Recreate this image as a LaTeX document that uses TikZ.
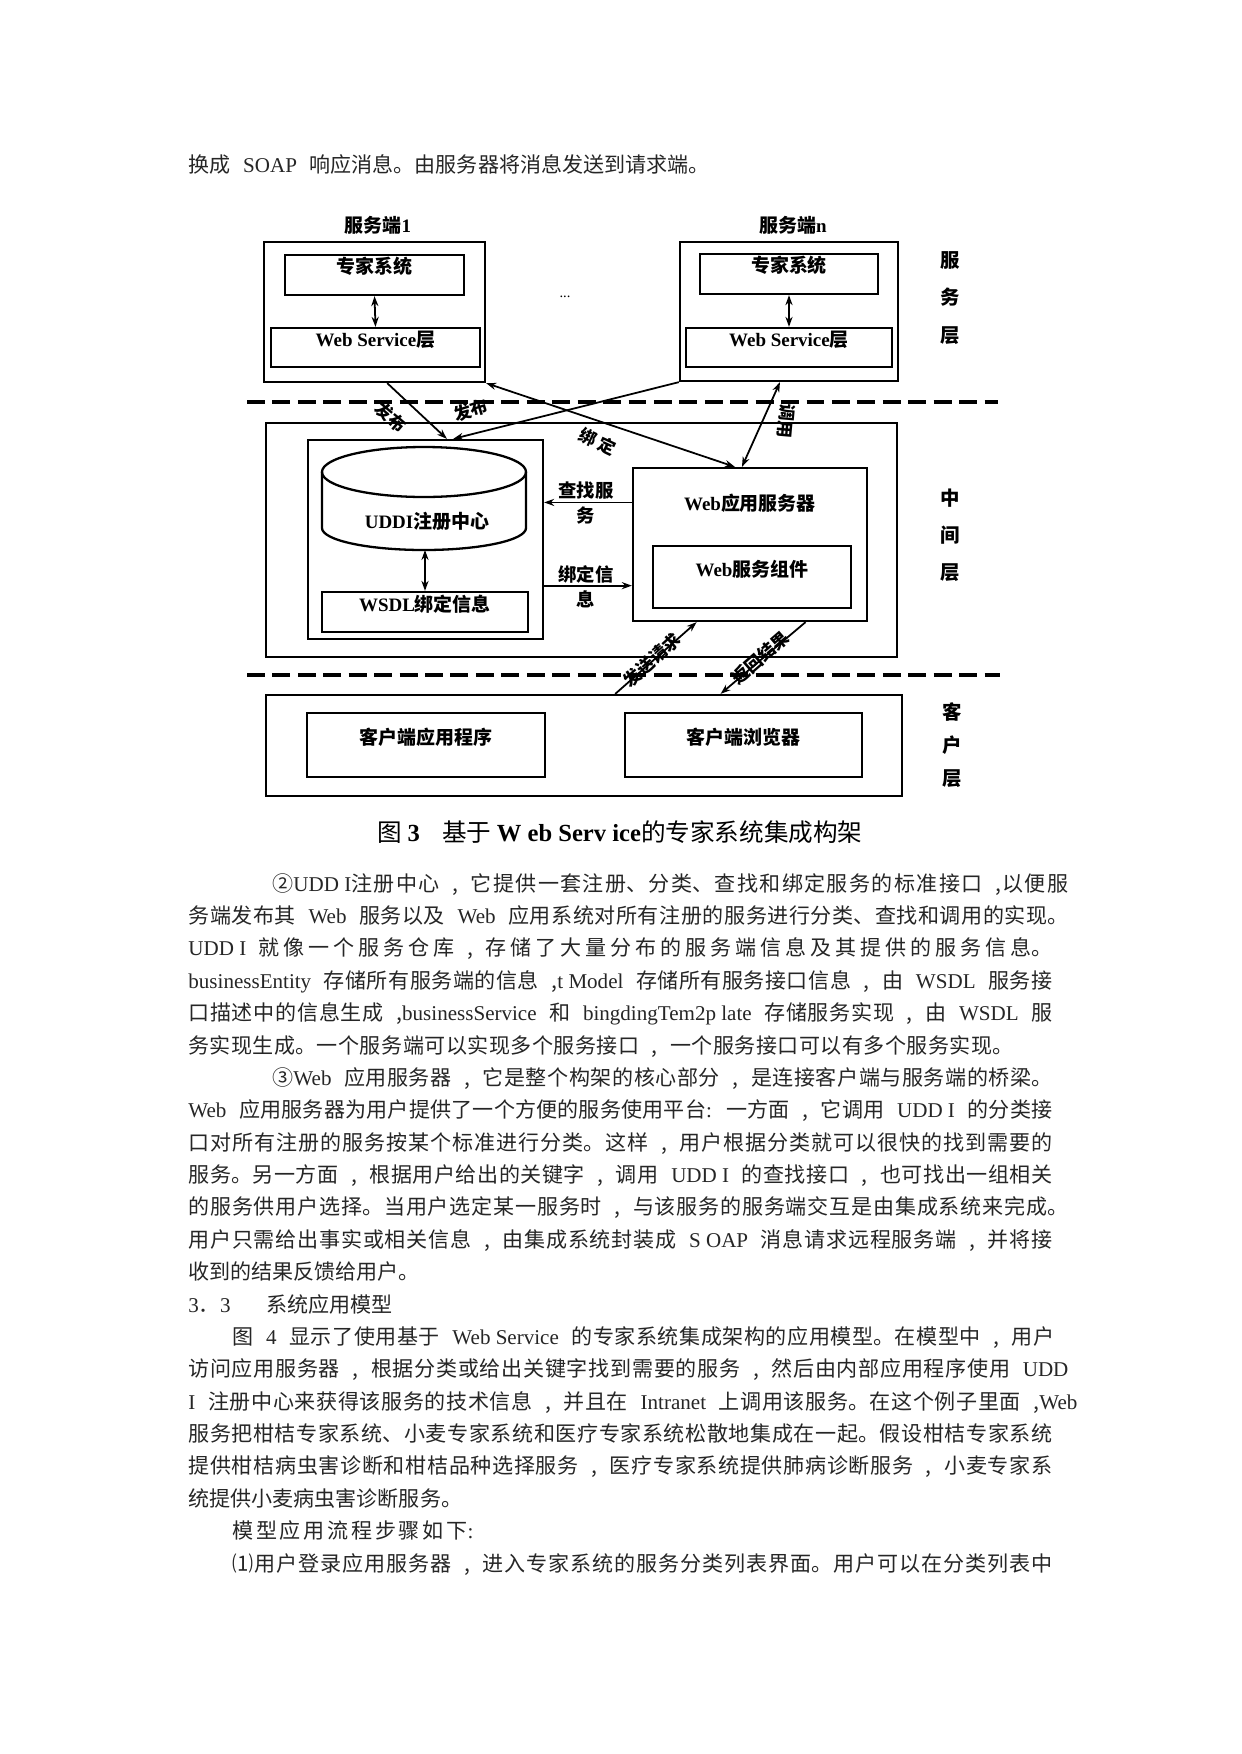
\documentclass[tikz,border=0pt]{standalone}
\usepackage{fontspec}
\setmainfont{Noto Sans CJK SC}
\newfontfamily\latfont{Liberation Serif}
\newcommand\lat[1]{{\latfont\spaceskip=0pt\relax #1}}
\usetikzlibrary{arrows.meta,fit,calc}
\XeTeXlinebreaklocale "zh"
\XeTeXlinebreakskip=0pt plus 1pt minus 0.2pt
\newlength\pxu
\setlength\pxu{0.4797bp}
\newcommand\bodysp{\spaceskip=0.6em plus 0.2em minus 0.15em\relax}
\newcommand\bline[4]{\node[bodytxt] (#1) at (#2) {\bodysp\parbox[b]{#3\pxu}{\parindent=0pt\parfillskip=0pt\rightskip=0pt minus 30pt\XeTeXlinebreakskip=0pt plus 1fil minus 0.3pt\relax #4}};}
\newcommand\nline[3]{\node[bodytxt] (#1) at (#2) {\bodysp #3};}
\begin{document}
\begin{tikzpicture}[x=0.4797bp,y=-0.4797bp,
  box/.style={draw, line width=1.1bp, inner sep=0pt},
  dlab/.style={font=\fontsize{9.1bp}{11bp}\selectfont\bfseries, inner sep=0pt},
  conn/.style={line width=0.85bp},
  arrA/.style={-{Stealth[length=4.8bp,width=3.4bp]}},
  arrB/.style={{Stealth[length=4.8bp,width=3.4bp]}-{Stealth[length=4.8bp,width=3.4bp]}},
  sepline/.style={line width=2.1bp, dash pattern=on 8.6bp off 3.6bp},
  alab/.style={font=\fontsize{8.3bp}{10bp}\selectfont\bfseries, inner sep=0pt},
  sidelab/.style={font=\fontsize{8.8bp}{12bp}\selectfont\bfseries, inner sep=0pt, align=center},
  bodytxt/.style={font=\fontsize{10.1bp}{15.5bp}\selectfont, inner sep=0pt, anchor=base west, text=black!85},
  laylab/.style={font=\fontsize{9.3bp}{17.8bp}\selectfont\bfseries, inner sep=0pt, align=center},
]
\useasboundingbox (0,0) rectangle (1241,1754);
\fill[white] (0,0) rectangle (1241,1754);

% ---------- top text line ----------
\bline{l0}{188,172}{521}{换成 \lat{SOAP} 响应消息。由服务器将消息发送到请求端。}

% ---------- service layer ----------
\node[dlab] (s1t) at (378,225) {服务端\lat{1}};
\node[dlab] (snt) at (793,225) {服务端\lat{n}};
\node[box, fit={(264,242) (485,382)}] (s1) {};
\node[box, dlab, fit={(285,255) (464,295)}] (s1e) {专家系统};
\node[box, dlab, fit={(271,328) (480,367)}] (s1w) {\lat{Web Service}层};
\draw[conn, arrB] (s1e.south) -- (s1w.north);
\node[box, fit={(680,242) (898,381)}] (sn) {};
\node[box, dlab, fit={(700,254) (878,294)}] (sne) {专家系统};
\node[box, dlab, fit={(686,328) (892,367)}] (snw) {\lat{Web Service}层};
\draw[conn, arrB] (sne.south) -- (snw.north);
\node[font=\fontsize{7bp}{8bp}\selectfont, inner sep=0pt] (dots) at (565,297) {\lat{...}};
\node[laylab] (lay1) at (950,298) {服\\务\\层};

% ---------- separators ----------
\coordinate (d1a) at (247,402); \coordinate (d1b) at (998,402);
\draw[sepline] (d1a) -- (d1b);
\coordinate (d2a) at (247,675); \coordinate (d2b) at (1000,675);
\draw[sepline] (d2a) -- (d2b);

% ---------- middle layer ----------
\node[box, fit={(266,423) (897,657)}] (mid) {};
\node[box, fit={(308,440) (543,639)}] (uddic) {};
\draw[line width=1.1bp] (424,472) ellipse [x radius=102, y radius=25];
\draw[line width=1.1bp] (322,472) -- (322,528)
  .. controls (322,540.2) and (367.7,550) .. (424,550)
  .. controls (480.3,550) and (526,540.2) .. (526,528) -- (526,472);
\coordinate (cylb) at (425,550);
\node[dlab] (uddit) at (427,521) {\lat{UDDI}注册中心};
\node[box, dlab, fit={(322,592) (528,632)}] (wsdl) {\lat{WSDL}绑定信息};
\draw[conn, arrB] (cylb) -- (wsdl.north);
\node[box, fit={(633,468) (867,621)}] (web) {};
\node[dlab] (webt) at (750,503) {\lat{Web}应用服务器};
\node[box, dlab, fit={(653,546) (851,608)}] (webc) {\lat{Web}服务组件};
\coordinate (q1) at ($(web.north west)!0.229!(web.south west)$);
\coordinate (q2) at ($(web.north west)!0.765!(web.south west)$);
\draw[conn, arrA] (q1) -- (q1 -| uddic.east);
\draw[conn, arrA] (q2 -| uddic.east) -- (q2);
\node[sidelab] (lfind) at (586,503) {查找服\\务};
\node[sidelab] (lbind) at (586,587) {绑定信\\息};
\node[laylab] (lay2) at (950,535) {中\\间\\层};

% ---------- client layer ----------
\node[box, fit={(266,695) (902,796)}] (cli) {};
\node[box, dlab, fit={(307,713) (545,777)}] (cliapp) {客户端应用程序};
\node[box, dlab, fit={(625,713) (862,777)}] (clibr) {客户端浏览器};
\node[laylab, font=\fontsize{9.3bp}{16bp}\selectfont\bfseries] (lay3) at (952,745) {客\\户\\层};

% ---------- connectors ----------
\draw[conn, arrA] ($(s1.south west)!0.557!(s1.south east)$) -- ($(uddic.north west)!0.59!(uddic.north east)$);
\draw[conn, arrA] (sn.south west) -- ($(uddic.north west)!0.617!(uddic.north east)$);
\draw[conn, arrB] (s1.south east) -- ($(web.north west)!0.436!(web.north east)$);
\draw[conn, arrB] ($(web.north west)!0.466!(web.north east)$) -- ($(sn.south west)!0.459!(sn.south east)$);
\draw[conn, arrA] ($(cli.north west)!0.549!(cli.north east)$) -- ($(web.south west)!0.274!(web.south east)$);
\draw[conn, arrA] ($(web.south west)!0.735!(web.south east)$) -- ($(cli.north west)!0.714!(cli.north east)$);
\node[alab, rotate=-40] (lp1) at (391,417) {发布};
\node[alab, rotate=17] (lp2) at (471,410) {发布};
\node[alab, rotate=-25] (lb1) at (598,442) {绑 定};
\node[alab, rotate=-95] (lc1) at (786,421) {调用};
\node[alab, rotate=42] (lr1) at (652,660) {发送请求};
\node[alab, rotate=41] (lr2) at (760,658) {返回结果};

% ---------- caption ----------
\node[inner sep=0pt, font=\fontsize{11.8bp}{14bp}\selectfont] (cap) at (620,832)
  {图 \lat{\bfseries 3}\hspace{0.9em}基于 \lat{\bfseries W eb Serv ice}的专家系统集成构架};

% ---------- body text ----------
\bline{k0}{272,891.1}{796}{②\lat{UDD I}注册中心 , 它提供一套注册、分类、查找和绑定服务的标准接口 ,以便服}
\bline{k1}{188,923.5}{880}{务端发布其 \lat{Web} 服务以及 \lat{Web} 应用系统对所有注册的服务进行分类、查找和调用的实现。}
\bline{k2}{188,955.9}{864}{\lat{UDD I} 就像一个服务仓库 , 存储了大量分布的服务端信息及其提供的服务信息。}
\bline{k3}{188,988.2}{864}{\lat{businessEntity} 存储所有服务端的信息 ,\lat{t Model} 存储所有服务接口信息 , 由 \lat{WSDL} 服务接}
\bline{k4}{188,1020.6}{864}{口描述中的信息生成 ,\lat{businessService} 和 \lat{bingdingTem2p late} 存储服务实现 , 由 \lat{WSDL} 服}
\bline{k5}{188,1053}{825}{务实现生成。一个服务端可以实现多个服务接口 , 一个服务接口可以有多个服务实现。}
\bline{k6}{272,1085.4}{780}{③\lat{Web} 应用服务器 , 它是整个构架的核心部分 , 是连接客户端与服务端的桥梁。}
\bline{k7}{188,1117.8}{864}{\lat{Web} 应用服务器为用户提供了一个方便的服务使用平台\lat{:} 一方面 , 它调用 \lat{UDD I} 的分类接}
\bline{k8}{188,1150.1}{864}{口对所有注册的服务按某个标准进行分类。这样 , 用户根据分类就可以很快的找到需要的}
\bline{k9}{188,1182.5}{864}{服务。另一方面 , 根据用户给出的关键字 , 调用 \lat{UDD I} 的查找接口 , 也可找出一组相关}
\bline{k10}{188,1214.9}{880}{的服务供用户选择。当用户选定某一服务时 , 与该服务的服务端交互是由集成系统来完成。}
\bline{k11}{188,1247.2}{864}{用户只需给出事实或相关信息 , 由集成系统封装成 \lat{S OAP} 消息请求远程服务端 , 并将接}
\nline{k12}{188,1279.6}{收到的结果反馈给用户。}
\nline{k13a}{188,1312}{\lat{3}．\lat{3}}
\nline{k13b}{266,1312}{系统应用模型}
\bline{k14}{232,1344.4}{822}{图 \lat{4} 显示了使用基于 \lat{Web Service} 的专家系统集成架构的应用模型。在模型中 , 用户}
\bline{k15}{188,1376.8}{880}{访问应用服务器 , 根据分类或给出关键字找到需要的服务 , 然后由内部应用程序使用 \lat{UDD}}
\bline{k16}{188,1409.1}{889}{\lat{I} 注册中心来获得该服务的技术信息 , 并且在 \lat{Intranet} 上调用该服务。在这个例子里面 ,\lat{Web}}
\bline{k17}{188,1441.5}{864}{服务把柑桔专家系统、小麦专家系统和医疗专家系统松散地集成在一起。假设柑桔专家系统}
\bline{k18}{188,1473.9}{864}{提供柑桔病虫害诊断和柑桔品种选择服务 , 医疗专家系统提供肺病诊断服务 , 小麦专家系}
\nline{k19}{188,1506.2}{统提供小麦病虫害诊断服务。}
\bline{k20}{232,1538.6}{241}{模型应用流程步骤如下\lat{:}}
\bline{k21}{232,1571}{820}{⑴用户登录应用服务器 , 进入专家系统的服务分类列表界面。用户可以在分类列表中}
\end{tikzpicture}
\end{document}
